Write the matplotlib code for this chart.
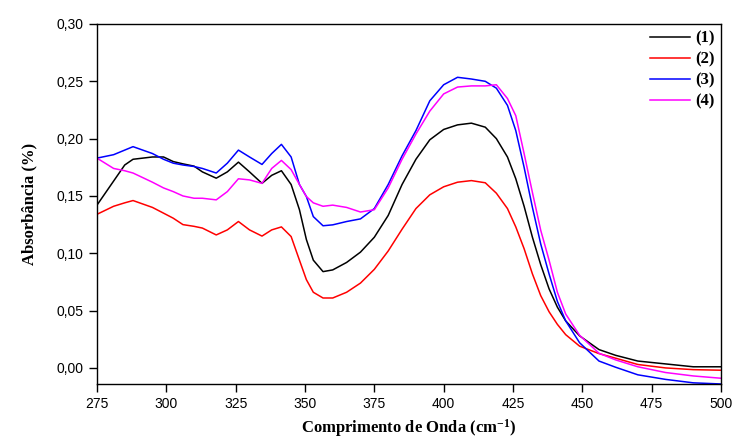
import matplotlib
matplotlib.use("Agg")
import matplotlib.pyplot as plt
import matplotlib.ticker as ticker

# comprimento de onda (cm-1)
onda = [275, 281, 285, 288, 295, 299, 302.5, 306, 310, 313, 318, 322, 326, 330,
        334.5, 338, 341.5, 345, 348, 350.5, 353, 356.5, 360, 365, 370, 375, 380,
        385, 390, 395, 400, 405, 410, 415, 419, 423, 426, 429, 432, 435, 438,
        441, 444, 449, 456, 462, 470, 480, 490, 500]

amostra1 = [0.142, 0.163, 0.177, 0.182, 0.184, 0.184, 0.180, 0.178, 0.176, 0.171,
            0.1655, 0.171, 0.1795, 0.171, 0.161, 0.168, 0.172, 0.160, 0.138, 0.112,
            0.094, 0.084, 0.0855, 0.092, 0.101, 0.114, 0.133, 0.160, 0.182, 0.199,
            0.208, 0.212, 0.2135, 0.210, 0.200, 0.184, 0.165, 0.141, 0.114, 0.090,
            0.069, 0.053, 0.041, 0.028, 0.016, 0.011, 0.006, 0.0035, 0.001, 0.001]

amostra2 = [0.134, 0.141, 0.144, 0.146, 0.140, 0.135, 0.1306, 0.125, 0.1235, 0.122,
            0.116, 0.1204, 0.1277, 0.1204, 0.115, 0.1204, 0.123, 0.1146, 0.094, 0.077,
            0.066, 0.061, 0.061, 0.066, 0.074, 0.086, 0.102, 0.121, 0.139, 0.151,
            0.158, 0.162, 0.1634, 0.1615, 0.1524, 0.139, 0.123, 0.104, 0.082, 0.063,
            0.049, 0.038, 0.029, 0.019, 0.0125, 0.0085, 0.003, 0.0, -0.0015, -0.002]

amostra3 = [0.183, 0.186, 0.190, 0.193, 0.187, 0.182, 0.1786, 0.177, 0.1757, 0.174,
            0.170, 0.1786, 0.190, 0.184, 0.1775, 0.187, 0.195, 0.184, 0.160, 0.1495,
            0.132, 0.124, 0.1248, 0.1277, 0.130, 0.139, 0.160, 0.185, 0.207, 0.233,
            0.247, 0.2535, 0.252, 0.250, 0.244, 0.229, 0.207, 0.175, 0.140, 0.108,
            0.082, 0.058, 0.041, 0.022, 0.006, 0.0006, -0.006, -0.010, -0.013, -0.014]

amostra4 = [0.183, 0.174, 0.172, 0.170, 0.162, 0.157, 0.1538, 0.150, 0.148, 0.148,
            0.1466, 0.1538, 0.165, 0.164, 0.161, 0.174, 0.181, 0.173, 0.160, 0.1495,
            0.144, 0.141, 0.142, 0.140, 0.136, 0.138, 0.157, 0.182, 0.204, 0.224,
            0.239, 0.245, 0.246, 0.246, 0.247, 0.235, 0.220, 0.187, 0.153, 0.120,
            0.094, 0.066, 0.047, 0.0285, 0.0128, 0.007, 0.001, -0.004, -0.007, -0.009]

rotulos = ["(1)", "(2)", "(3)", "(4)"]
cores = ["#000000", "#ff0000", "#0000ff", "#ff00ff"]


def virgula(x, pos):
    return f"{x:.2f}".replace(".", ",")


plt.rcParams["mathtext.fontset"] = "custom"
plt.rcParams["mathtext.rm"] = "Liberation Serif"
plt.rcParams["mathtext.bf"] = "Liberation Serif:bold"

fig = plt.figure(figsize=(7.38, 4.41), dpi=100)
ax = fig.add_axes([0.1314, 0.1293, 0.8456, 0.8163])

for serie, cor, rot in zip([amostra1, amostra2, amostra3, amostra4], cores, rotulos):
    ax.plot(onda, serie, color=cor, lw=1.1, label=rot)

ax.set_xlim(275, 500)
ax.set_ylim(-0.014, 0.30)
ax.xaxis.set_major_locator(ticker.MultipleLocator(25))
ax.yaxis.set_major_locator(ticker.MultipleLocator(0.05))
ax.yaxis.set_major_formatter(ticker.FuncFormatter(virgula))
ax.tick_params(direction="out", length=6, width=1, labelsize=10, top=False, right=False)
for lab in ax.get_xticklabels() + ax.get_yticklabels():
    lab.set_fontfamily("Liberation Sans")
for s in ax.spines.values():
    s.set_linewidth(1.0)

ax.set_xlabel("Comprimento de Onda (cm$\\mathbf{^{-1}}$)", family="Liberation Serif",
              fontweight="bold", fontsize=12, labelpad=4)
ax.set_ylabel("Absorbância (%)", family="Liberation Serif", fontweight="bold",
              fontsize=12, labelpad=14)

leg = ax.legend(loc="upper right", frameon=False, handlelength=2.4, handletextpad=0.3,
                labelspacing=0.3, borderaxespad=0.1, borderpad=0.3,
                prop={"family": "Liberation Serif", "weight": "bold", "size": 12})

fig.savefig("out.png", dpi=100)
